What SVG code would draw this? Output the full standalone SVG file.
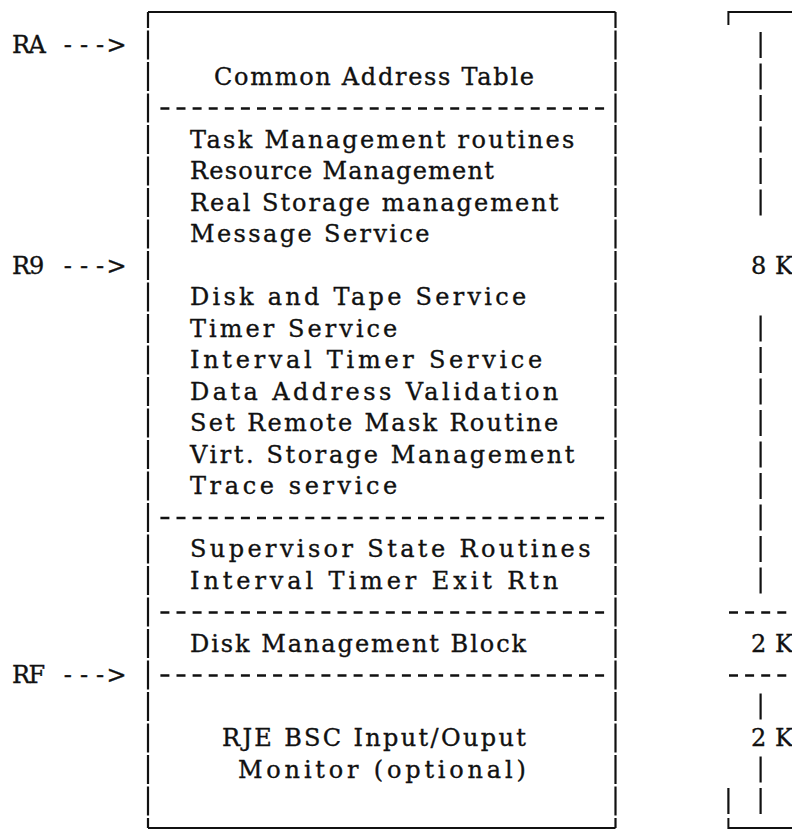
<svg xmlns="http://www.w3.org/2000/svg" width="792" height="832" viewBox="0 0 792 832">
  <style>
    .t { font-family: "DejaVu Serif", "Liberation Serif", serif; font-size: 24px; fill: #111111; stroke: #111111; stroke-width: 0.35px; }
    .rule { stroke: #111111; stroke-width: 2; fill: none; }
    .bar { stroke: #111111; stroke-width: 2.2; fill: none; stroke-dasharray: 29 2.5; stroke-dashoffset: 13; }
    .sep { stroke: #111111; stroke-width: 2.6; fill: none; stroke-dasharray: 9 7.1; }
    .tick { stroke: #111111; stroke-width: 2.2; fill: none; stroke-dasharray: 26 5.5; }
  </style>
  <rect width="792" height="832" fill="#ffffff"/>

  <!-- register pointers (typed on a 16.1 px character grid) -->
  <g id="pointers">
    <text class="t" x="12 28.5 44.2 63.8 79.9 96 106.6" y="53">RA ---&gt;</text>
    <text class="t" x="12 29 44.2 63.8 79.9 96 106.6" y="273.5">R9 ---&gt;</text>
    <text class="t" x="12 28.5 44.2 63.8 79.9 96 106.6" y="683">RF ---&gt;</text>
  </g>

  <!-- storage map frame -->
  <g id="frame">
    <line class="rule" x1="148" y1="12" x2="615.5" y2="12"/>
    <line class="bar" x1="148" y1="12" x2="148" y2="828"/>
    <line class="bar" x1="615.5" y1="12" x2="615.5" y2="828"/>
    <line class="rule" x1="148" y1="828" x2="615.5" y2="828" stroke="#444"/>
  </g>

  <g id="sec-address-table">
    <text class="t" x="214" y="84.5" textLength="320">Common Address Table</text>
    <line class="sep" x1="160.4" y1="108.5" x2="604.1" y2="108.5"/>
  </g>

  <g id="sec-services">
    <text class="t" x="190" y="147.5" textLength="384.4">Task Management routines</text>
    <text class="t" x="190" y="179" textLength="303.9">Resource Management</text>
    <text class="t" x="190" y="210.5" textLength="368.3">Real Storage management</text>
    <text class="t" x="190" y="242" textLength="239.5">Message Service</text>
    <text class="t" x="190" y="305" textLength="336.1">Disk and Tape Service</text>
    <text class="t" x="190" y="336.5" textLength="207.3">Timer Service</text>
    <text class="t" x="190" y="368" textLength="352.2">Interval Timer Service</text>
    <text class="t" x="190" y="399.5" textLength="368.3">Data Address Validation</text>
    <text class="t" x="190" y="431" textLength="368.3">Set Remote Mask Routine</text>
    <text class="t" x="190" y="462.5" textLength="384.4">Virt. Storage Management</text>
    <text class="t" x="190" y="494" textLength="207.3">Trace service</text>
    <line class="sep" x1="160.4" y1="518" x2="604.1" y2="518"/>
  </g>

  <g id="sec-supervisor">
    <text class="t" x="190" y="557" textLength="400.5">Supervisor State Routines</text>
    <text class="t" x="190" y="588.5" textLength="368.3">Interval Timer Exit Rtn</text>
    <line class="sep" x1="160.4" y1="612.5" x2="604.1" y2="612.5"/>
  </g>

  <g id="sec-disk-block">
    <text class="t" x="190" y="651.5" textLength="336.1">Disk Management Block</text>
    <line class="sep" x1="160.4" y1="675.5" x2="604.1" y2="675.5"/>
  </g>

  <g id="sec-rje">
    <text class="t" x="222" y="746" textLength="303.9">RJE BSC Input/Ouput</text>
    <text class="t" x="238" y="777.5" textLength="287.8">Monitor (optional)</text>
  </g>

  <!-- size scale on the right -->
  <g id="size-scale">
    <path class="rule" d="M728.4,25 V12 H792"/>
    <line class="tick" x1="760.6" y1="32" x2="760.6" y2="215.5"/>
    <text class="t" x="751 765 775" y="273.5">8 K</text>
    <line class="tick" x1="760.6" y1="315.5" x2="760.6" y2="593.5"/>
    <line class="sep" x1="729" y1="612.5" x2="792" y2="612.5"/>
    <text class="t" x="751 765 775" y="651.5">2 K</text>
    <line class="sep" x1="729" y1="675.5" x2="792" y2="675.5"/>
    <line class="tick" x1="760.6" y1="693.5" x2="760.6" y2="719.5"/>
    <text class="t" x="751 765 775" y="746">2 K</text>
    <line class="tick" x1="760.6" y1="756.5" x2="760.6" y2="782.5"/>
    <line class="tick" x1="760.6" y1="788" x2="760.6" y2="814"/>
    <line class="tick" x1="728.4" y1="788" x2="728.4" y2="814"/>
    <path class="rule" d="M728.4,818 V828 H792" stroke="#444"/>
  </g>

  <g id="connectors"/>
</svg>
